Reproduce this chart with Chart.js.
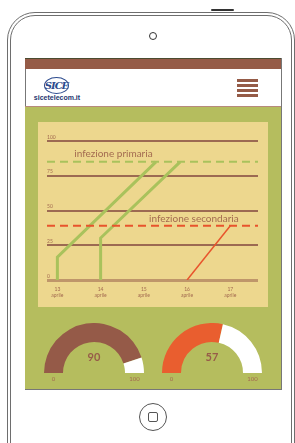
<!DOCTYPE html>
<html>
<head>
<meta charset="utf-8">
<script src="https://cdn.jsdelivr.net/npm/chart.js@4"></script>
<style>
  html, body { margin:0; padding:0; background:#fff; width:295px; height:443px; overflow:hidden; position:relative; font-family: Lato, "Open Sans", sans-serif; }
  .abs { position:absolute; box-sizing:border-box; }
  #frameOuter { left:7px; top:12px; width:288px; height:460px; border:1px solid #6e6e6e; border-radius:28px; }
  #frameInner { left:10px; top:15px; width:282px; height:460px; border:1px solid #6e6e6e; border-radius:25px; }
  #topBtn { left:211px; top:9px; width:23px; height:2px; background:#333; border-radius:1px; }
  #camera { left:149px; top:32px; width:8px; height:8px; border:1.5px solid #333; border-radius:50%; }
  #screen { left:25px; top:58px; width:257px; height:332px; border-left:1px solid #777; border-right:1px solid #777; border-bottom:1px solid #777; background:#fff; }
  #topBar { left:25px; top:58px; width:256px; height:11px; background:#955b47; border-top:1px solid #4b4b30; }
  #headLine { left:25px; top:106px; width:256px; height:1px; background:#b78a7c; }
  #green { left:25px; top:107px; width:256px; height:282px; background:#b5bd5e; }
  #panel { left:38px; top:122px; width:230px; height:185px; background:#edd78e; }
  .bar { left:237px; width:21px; height:3px; background:#955b47; }
  #logoOval { left:44px; top:77px; width:25px; height:17px; border:1.5px solid #2c4b8e; border-radius:50%; }
  #logoMark { left:44px; top:77px; width:25px; height:17px; text-align:center; font:italic bold 10px "DejaVu Serif", serif; line-height:17px; color:#2c4b8e; letter-spacing:-1px; }
  #logoText { left:30px; top:94px; width:54px; text-align:center; font:bold 7px "Liberation Sans", Arial, sans-serif; color:#1c3570; }
  #homeBtn { left:139px; top:403px; width:28px; height:28px; border:1px solid #555; border-radius:50%; }
  #homeSq { left:148px; top:412px; width:10px; height:10px; border:1px solid #555; border-radius:2px; }
  canvas { position:absolute; }
  #lineChart { left:38px; top:122px; }
  #gauge1 { left:44px; top:323px; }
  #gauge2 { left:162px; top:323px; }
</style>
</head>
<body>
<div class="abs" id="frameOuter"></div>
<div class="abs" id="frameInner"></div>
<div class="abs" id="topBtn"></div>
<div class="abs" id="camera"></div>
<div class="abs" id="screen"></div>
<div class="abs" id="topBar"></div>
<div class="abs" id="headLine"></div>
<div class="abs" id="green"></div>
<div class="abs" id="panel"></div>
<div class="abs bar" style="top:79px"></div>
<div class="abs bar" style="top:84px"></div>
<div class="abs bar" style="top:89px"></div>
<div class="abs bar" style="top:94px"></div>
<div class="abs" id="logoOval"></div>
<div class="abs" id="logoMark">SICE</div>
<div class="abs" id="logoText">sicetelecom.it</div>
<div class="abs" id="homeBtn"></div>
<div class="abs" id="homeSq"></div>

<canvas id="lineChart" width="230" height="185"></canvas>
<canvas id="gauge1" width="100" height="60"></canvas>
<canvas id="gauge2" width="100" height="60"></canvas>

<script>
// ==========================================================
// 1. DATI
// ==========================================================
const dayTicks = [13, 14, 15, 16, 17];
const dayLabel = 'aprile';
const yTicks = [0, 25, 50, 75, 100];
const xRange = [12.76, 17.64];

// infezione primaria: due linee verdi
const primaryAX = [13, 13, 15.28];
const primaryAY = [0, 16.5, 85];
const primaryBX = [14, 14, 15.84];
const primaryBY = [0, 30.2, 85];
// infezione secondaria: linea rossa
const secondaryX = [16, 17];
const secondaryY = [0, 39];

// soglie tratteggiate
const primaryLevel = 85;
const secondaryLevel = 39;

// etichette nel grafico
const noteText = ['infezione primaria', 'infezione secondaria'];
const noteX = [13.39, 15.12];
const noteY = [90.9, 44.2];

// indicatori (gauge)
const gaugeValues = [90, 57];
const gaugeMax = 100;
const gaugeColors = ['#955a48', '#e95e2f'];

// colori
const green = '#a9c25c';
const red = '#e8542c';
const gridBrown = '#9c6a52';
const zeroBrown = '#bf966a';
const textBrown = '#a36b50';

const toPoints = (xs, ys) => xs.map((x, i) => ({ x: x, y: ys[i] }));

// ==========================================================
// 2. GRAFICO A LINEE
// ==========================================================
const notesPlugin = {
    id: 'notes',
    afterDatasetsDraw(chart) {
        const { ctx, scales: { x, y } } = chart;
        ctx.save();
        ctx.font = '10px Lato';
        ctx.fillStyle = textBrown;
        ctx.textBaseline = 'middle';
        noteText.forEach((t, i) => {
            ctx.fillText(t, x.getPixelForValue(noteX[i]), y.getPixelForValue(noteY[i]));
        });
        ctx.restore();
    }
};

new Chart(document.getElementById('lineChart'), {
    type: 'line',
    data: {
        datasets: [
            { data: toPoints(xRange, [primaryLevel, primaryLevel]), borderColor: green, borderWidth: 2, borderDash: [8, 5] },
            { data: toPoints(xRange, [secondaryLevel, secondaryLevel]), borderColor: red, borderWidth: 2, borderDash: [8, 5] },
            { data: toPoints(primaryAX, primaryAY), borderColor: green, borderWidth: 3 },
            { data: toPoints(primaryBX, primaryBY), borderColor: green, borderWidth: 3 },
            { data: toPoints(secondaryX, secondaryY), borderColor: red, borderWidth: 1.5 }
        ]
    },
    options: {
        responsive: false,
        animation: false,
        elements: { point: { radius: 0 }, line: { tension: 0, borderCapStyle: 'butt' } },
        layout: { padding: { left: 9, right: 10, top: 19, bottom: 0 } },
        plugins: { legend: { display: false }, tooltip: { enabled: false } },
        scales: {
            x: {
                type: 'linear',
                min: xRange[0],
                max: xRange[1],
                afterBuildTicks: s => { s.ticks = dayTicks.map(v => ({ value: v })); },
                afterFit: s => { s.height = 27; },
                grid: { display: false, drawTicks: false },
                border: { display: false },
                ticks: {
                    padding: 6, autoSkip: false, maxRotation: 0,
                    font: { size: 5, family: 'Lato' }, color: textBrown,
                    callback: v => [String(v), dayLabel]
                }
            },
            y: {
                min: 0,
                max: 100,
                afterBuildTicks: s => { s.ticks = yTicks.map(v => ({ value: v })); },
                grid: {
                    drawTicks: false,
                    color: c => c.tick && c.tick.value === 0 ? zeroBrown : gridBrown,
                    lineWidth: c => c.tick && c.tick.value === 0 ? 3 : 2
                },
                border: { display: false },
                ticks: {
                    mirror: true, padding: 0, labelOffset: -4,
                    font: { size: 5, family: 'Lato' }, color: textBrown
                }
            }
        }
    },
    plugins: [notesPlugin]
});

// ==========================================================
// 3. INDICATORI A SEMICERCHIO
// ==========================================================
const gaugeText = {
    id: 'gaugeText',
    afterDraw(chart) {
        const arc = chart.getDatasetMeta(0).data[0];
        const mid = (arc.outerRadius + arc.innerRadius) / 2;
        const ctx = chart.ctx;
        ctx.save();
        ctx.fillStyle = '#975c49';
        ctx.textAlign = 'center';
        ctx.textBaseline = 'middle';
        ctx.font = 'bold 11px Lato';
        ctx.fillText(String(chart.data.datasets[0].data[0]), arc.x, arc.y - 16);
        ctx.fillStyle = textBrown;
        ctx.font = '6px Lato';
        ctx.fillText('0', arc.x - mid, arc.y + 6);
        ctx.fillText(String(gaugeMax), arc.x + mid, arc.y + 6);
        ctx.restore();
    }
};

function renderGauge(id, value, color) {
    new Chart(document.getElementById(id), {
        type: 'doughnut',
        data: {
            datasets: [{
                data: [value, gaugeMax - value],
                backgroundColor: [color, '#ffffff'],
                borderWidth: 0
            }]
        },
        options: {
            responsive: false,
            animation: false,
            rotation: -90,
            circumference: 180,
            cutout: '62%',
            layout: { padding: { bottom: 10 } },
            plugins: { legend: { display: false }, tooltip: { enabled: false } }
        },
        plugins: [gaugeText]
    });
}

renderGauge('gauge1', gaugeValues[0], gaugeColors[0]);
renderGauge('gauge2', gaugeValues[1], gaugeColors[1]);
</script>
</body>
</html>
